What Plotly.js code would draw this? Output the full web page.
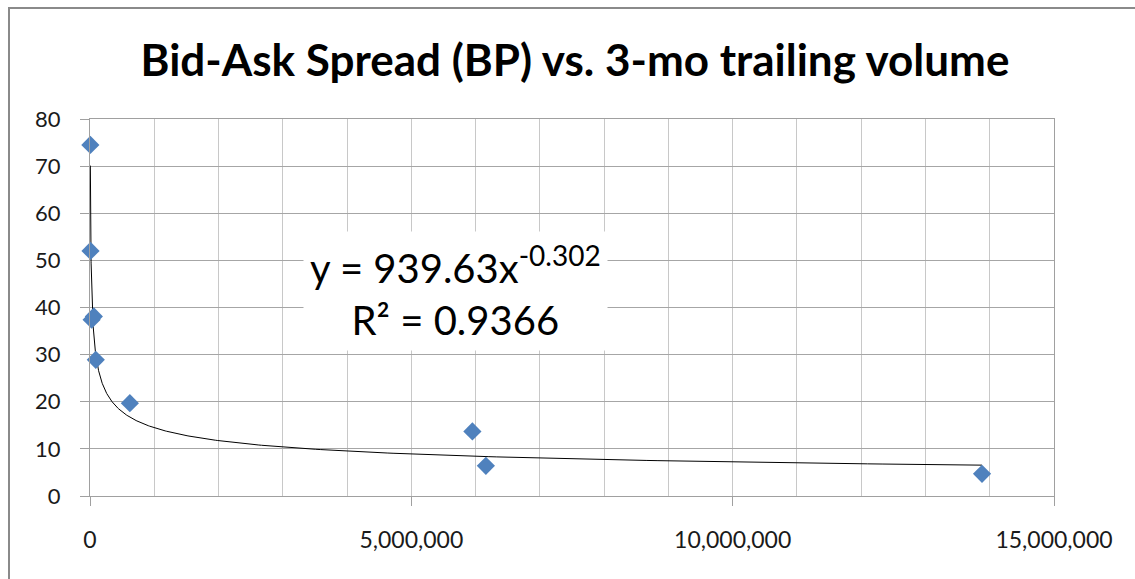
<!DOCTYPE html>
<html>
<head>
<meta charset="utf-8">
<script src="https://cdn.plot.ly/plotly-3.0.1.min.js"></script>
<style>
  html, body { margin: 0; padding: 0; background: #fff; }
  #wrap { position: relative; width: 1135px; height: 579px; overflow: hidden; }
  #chart { position: absolute; left: 0; top: 0; width: 1135px; height: 579px; }
  #frame { position: absolute; left: 8px; top: 7px; width: 1300px; height: 700px;
           border-left: 2px solid #8a8a8a; border-top: 2px solid #8a8a8a; pointer-events: none; }
</style>
</head>
<body>
<div id="wrap">
  <div id="chart"></div>
  <div id="frame"></div>
</div>
<script>
// Data
const volume = [5400, 8000, 25000, 60000, 90000, 620000, 5950000, 6160000, 13880000];
const spreadBP = [74.5, 52.0, 37.4, 38.1, 28.9, 19.7, 13.7, 6.4, 4.7];

// Power trendline shown on the chart: y = a * x^b
const trendA = 939.63;
const trendB = -0.302;
const trendLabel = 'y = 939.63x<sup>-0.302</sup><br>R² = 0.9366';
const chartTitle = 'Bid-Ask Spread (BP) vs. 3-mo trailing volume';

const xMin = Math.min(...volume), xMax = Math.max(...volume);
const trendX = [], trendY = [];
const nSteps = 400;
for (let i = 0; i <= nSteps; i++) {
  const x = Math.exp(Math.log(xMin) + (Math.log(xMax) - Math.log(xMin)) * i / nSteps);
  trendX.push(x);
  trendY.push(trendA * Math.pow(x, trendB));
}

const FONT = 'Lato, "Open Sans", sans-serif';

const traces = [
  {
    x: trendX, y: trendY, type: 'scatter', mode: 'lines',
    line: { color: '#000000', width: 1 }, hoverinfo: 'skip', showlegend: false
  },
  {
    x: volume, y: spreadBP, type: 'scatter', mode: 'markers',
    marker: { symbol: 'diamond', size: 14, color: '#4f81bd' },
    cliponaxis: false, showlegend: false
  }
];

const layout = {
  width: 1135, height: 579,
  margin: { l: 90, r: 81, t: 119, b: 83 },
  paper_bgcolor: '#ffffff', plot_bgcolor: '#ffffff',
  font: { family: FONT, color: '#1a1a1a' },
  showlegend: false,
  title: {
    text: chartTitle,
    font: { family: FONT, size: 44, color: '#000000', weight: 'bold' },
    x: 575 / 1135, xref: 'container', xanchor: 'center',
    y: 1 - 61 / 579, yref: 'container', yanchor: 'middle'
  },
  xaxis: {
    range: [0, 15000000],
    dtick: 5000000, tick0: 0,
    tickformat: ',d',
    ticks: 'outside', ticklen: 9, tickcolor: '#a0a0a0', tickwidth: 1,
    ticklabelstandoff: 14,
    tickfont: { family: FONT, size: 23, color: '#1a1a1a' },
    showgrid: true, gridcolor: '#c8c8c8', gridwidth: 1,
    minor: { dtick: 1000000, showgrid: true, gridcolor: '#c8c8c8', gridwidth: 1, ticks: '' },
    showline: true, linecolor: '#a0a0a0', linewidth: 1, mirror: true,
    zeroline: false, fixedrange: true
  },
  yaxis: {
    range: [0, 80],
    dtick: 10, tick0: 0,
    ticks: 'outside', ticklen: 9, tickcolor: '#a0a0a0', tickwidth: 1,
    ticklabelstandoff: 15,
    tickfont: { family: FONT, size: 22, color: '#1a1a1a' },
    showgrid: true, gridcolor: '#a6a6a6', gridwidth: 1,
    showline: true, linecolor: '#a0a0a0', linewidth: 1, mirror: true,
    zeroline: false, fixedrange: true
  },
  annotations: [
    {
      x: 5680000, y: 43.6, xref: 'x', yref: 'y',
      text: trendLabel, showarrow: false,
      font: { family: FONT, size: 40, color: '#000000' },
      bgcolor: '#ffffff', borderpad: 6, align: 'center'
    }
  ]
};

Plotly.newPlot('chart', traces, layout, { displayModeBar: false, staticPlot: true });
</script>
</body>
</html>
